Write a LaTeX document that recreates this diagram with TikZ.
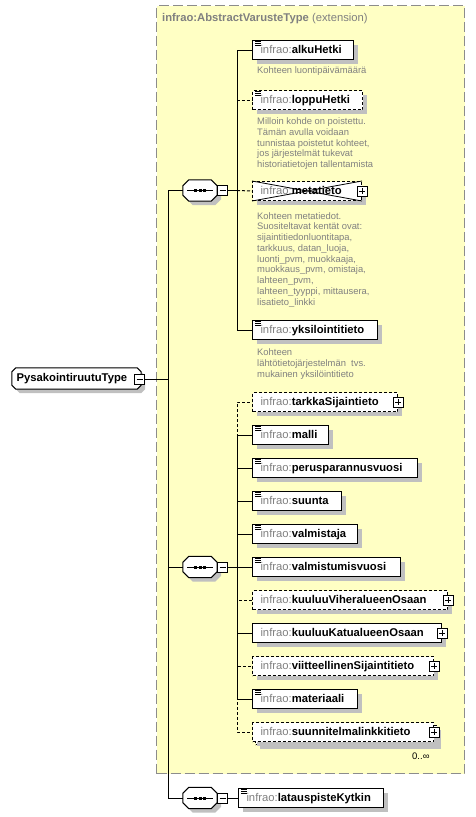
\documentclass[tikz,border=0pt]{standalone}
\usepackage{fontspec}
\setmainfont{Liberation Sans}
\usetikzlibrary{shadows,calc}
\definecolor{nsgray}{HTML}{808080}
\definecolor{anngray}{HTML}{808080}
\definecolor{shadowgray}{HTML}{C0C0C0}
\definecolor{extfill}{HTML}{FFFFC4}
\definecolor{extborder}{HTML}{8C8C8C}
\newcommand\elfont{\fontsize{11.25}{13}\selectfont\bfseries}
\newcommand\annfont{\fontsize{9.4}{10.75}\selectfont}
\newcommand\nsp{{\mdseries\color{nsgray}infrao:}}
\newcommand\elicon[1]{\foreach \k in {1,3,5} \draw[line width=0.9] ($(#1.north west)+(3,\k+0.5)$) -- ++(6,0);}
\newcommand\plusat[1]{\node[pmbox] (#1p) at (#1.east) {};
  \draw[line width=1] ($(#1p)+(-3,0)$) -- ($(#1p)+(3,0)$) ($(#1p)+(0,-3)$) -- ($(#1p)+(0,3)$);}
\newcommand\chamf[2]{\path[draw,fill=white,line width=1,shad]
  ($(#1.north west)+(#2,0)$) -- ($(#1.north east)+(-#2,0)$) -- ($(#1.north east)+(0,#2)$)
  -- ($(#1.south east)+(0,-#2)$) -- ($(#1.south east)+(-#2,0)$) -- ($(#1.south west)+(#2,0)$)
  -- ($(#1.south west)+(0,-#2)$) -- ($(#1.north west)+(0,#2)$) -- cycle;}
\newcommand\seqsym[3]{\node[seqbox] (#1) at (#2,#3) {};
  \chamf{#1}{6}
  \draw[line width=1] ($(#1)+(-13,0)$) -- ($(#1)+(13,0)$);
  \foreach \dx in {-4.4,0,4.4} \fill ($(#1)+(\dx-1.5,-1.5)$) rectangle ++(3,3);
  \node[pmbox] (#1m) at ($(#1.east)+(5.5,0)$) {};
  \draw[line width=1] ($(#1m)+(-3,0)$) -- ($(#1m)+(3,0)$);}
\begin{document}
\begin{tikzpicture}[x=1pt,y=-1pt,
  shad/.style={drop shadow={shadow xshift=4pt,shadow yshift=-4pt,fill=shadowgray,opacity=1}},
  el/.style={draw,fill=white,line width=1,anchor=west,minimum height=19,inner xsep=8,inner ysep=0,
    text height=8.4,text depth=2.4,align=left,font=\elfont,shad},
  opt/.style={dash pattern=on 3pt off 2pt},
  conn/.style={line width=1},
  pmbox/.style={draw,fill=white,line width=1,minimum size=10,inner sep=0},
  seqbox/.style={rectangle,draw=none,minimum width=34,minimum height=21,inner sep=0},
  ann/.style={anchor=north west,inner sep=0,align=left,font=\annfont,text=anngray}]
\useasboundingbox (0,0) rectangle (475,817);
% extension container
\node[draw=extborder,fill=extfill,dash pattern=on 10pt off 4pt,line width=1,minimum width=308,
  minimum height=768,anchor=north west,inner sep=0] (ext) at (156,5) {};
\node[anchor=west,inner sep=0,font=\elfont,text=nsgray] (title) at (162,19)
  {infrao:AbstractVarusteType {\mdseries (extension)}};
% root
\node[rectangle,draw=none,minimum width=129,minimum height=21,inner sep=0] (root) at (76.5,378.5) {};
\chamf{root}{4}
\node[anchor=west,inner sep=0,font=\elfont,text height=8.4,text depth=2.4] (rootT) at (16.5,378.5) {PysakointiruutuType};
\node[pmbox] (rootm) at (139.5,379) {};
\draw[line width=1] ($(rootm)+(-3,0)$) -- ($(rootm)+(3,0)$);
% sequences
\seqsym{s1}{200}{190.5}
\seqsym{s2}{200}{567}
\seqsym{s3}{200}{798}
% first sequence children
\node[el,text width=85] (alku) at (252,50) {\nsp alkuHetki}; \elicon{alku}
\node[ann] (alkuA) at (257,66.5) {Kohteen luontipäivämäärä};
\node[el,opt,text width=94] (loppu) at (252,100) {\nsp loppuHetki}; \elicon{loppu}
\node[ann] (loppuA) at (257,117.5) {Milloin kohde on poistettu.\\Tämän avulla voidaan\\tunnistaa poistetut kohteet,\\jos järjestelmät tukevat\\historiatietojen tallentamista};
\node[el,opt,text width=93] (meta) at (252,191) {\nsp metatieto};
\draw[line width=0.8] (meta.north west) -- (meta.south east) (meta.south west) -- (meta.north east);
\plusat{meta}
\node[ann] (metaA) at (257,212.2) {Kohteen metatiedot.\\Suositeltavat kentät ovat:\\sijaintitiedonluontitapa,\\tarkkuus, datan\_luoja,\\luonti\_pvm, muokkaaja,\\muokkaus\_pvm, omistaja,\\lahteen\_pvm,\\lahteen\_tyyppi, mittausera,\\lisatieto\_linkki};
\node[el,text width=109] (yksi) at (252,330) {\nsp yksilointitieto}; \elicon{yksi}
\node[ann] (yksiA) at (257,348.5) {Kohteen\\lähtötietojärjestelmän\ \ tvs.\\mukainen yksilöintitieto};
% second sequence children
\node[el,opt,text width=129] (tarkka) at (252,402) {\nsp tarkkaSijaintieto}; \plusat{tarkka}
\node[el,text width=60] (malli) at (252,435) {\nsp malli}; \elicon{malli}
\node[el,text width=149] (perus) at (252,468) {\nsp perusparannusvuosi}; \elicon{perus}
\node[el,text width=73] (suunta) at (252,501) {\nsp suunta}; \elicon{suunta}
\node[el,text width=89] (valm) at (252,534) {\nsp valmistaja}; \elicon{valm}
\node[el,text width=132] (valmv) at (252,567) {\nsp valmistumisvuosi}; \elicon{valmv}
\node[el,opt,text width=179] (vih) at (252,600) {\nsp kuuluuViheralueenOsaan}; \plusat{vih}
\node[el,text width=173] (katu) at (252,633) {\nsp kuuluuKatualueenOsaan}; \plusat{katu}
\node[el,opt,text width=165] (viit) at (252,666) {\nsp viitteellinenSijaintitieto}; \plusat{viit}
\node[el,text width=89] (mat) at (252,699) {\nsp materiaali}; \elicon{mat}
\node[el,opt,text width=165] (suunB) at (255,735) {};
\node[el,opt,text width=165,drop shadow={opacity=0}] (suun) at (252,732) {\nsp suunnitelmalinkkitieto}; \plusat{suun}
\node[anchor=base west,inner sep=0,font=\fontsize{9.5}{11}\selectfont] (occ) at (412,759) {0..∞};
% third sequence child
\node[el,text width=129] (lata) at (238,798) {\nsp latauspisteKytkin}; \elicon{lata}
% connectors
\coordinate (tr) at (168,379);
\coordinate (b1) at (237,190.5);
\coordinate (b2) at (237,567);
\draw[conn] (rootm.east) -- (tr);
\draw[conn] (tr) |- (s1.west);
\draw[conn] (tr) |- (s2.west);
\draw[conn] (tr) |- (s3.west);
\draw[conn] (s1m.east) -- (b1);
\draw[conn] (s2m.east) -- (b2);
\draw[conn] (s3m.east) -- (lata.west);
\draw[conn,opt] (b1) |- (loppu.west);
\draw[conn,opt] (b1) -- (meta.west);
\draw[conn] (b1) |- (alku.west);
\draw[conn] (b1) |- (yksi.west);
\draw[conn,opt] (b2) |- (tarkka.west);
\draw[conn,opt] (b2) |- (vih.west);
\draw[conn,opt] (b2) |- (viit.west);
\draw[conn,opt] (b2) |- (suun.west);
\draw[conn] (b2) |- (malli.west);
\draw[conn] (b2) |- (perus.west);
\draw[conn] (b2) |- (suunta.west);
\draw[conn] (b2) |- (valm.west);
\draw[conn] (b2) -- (valmv.west);
\draw[conn] (b2) |- (katu.west);
\draw[conn] (b2) |- (mat.west);
\end{tikzpicture}
\end{document}
